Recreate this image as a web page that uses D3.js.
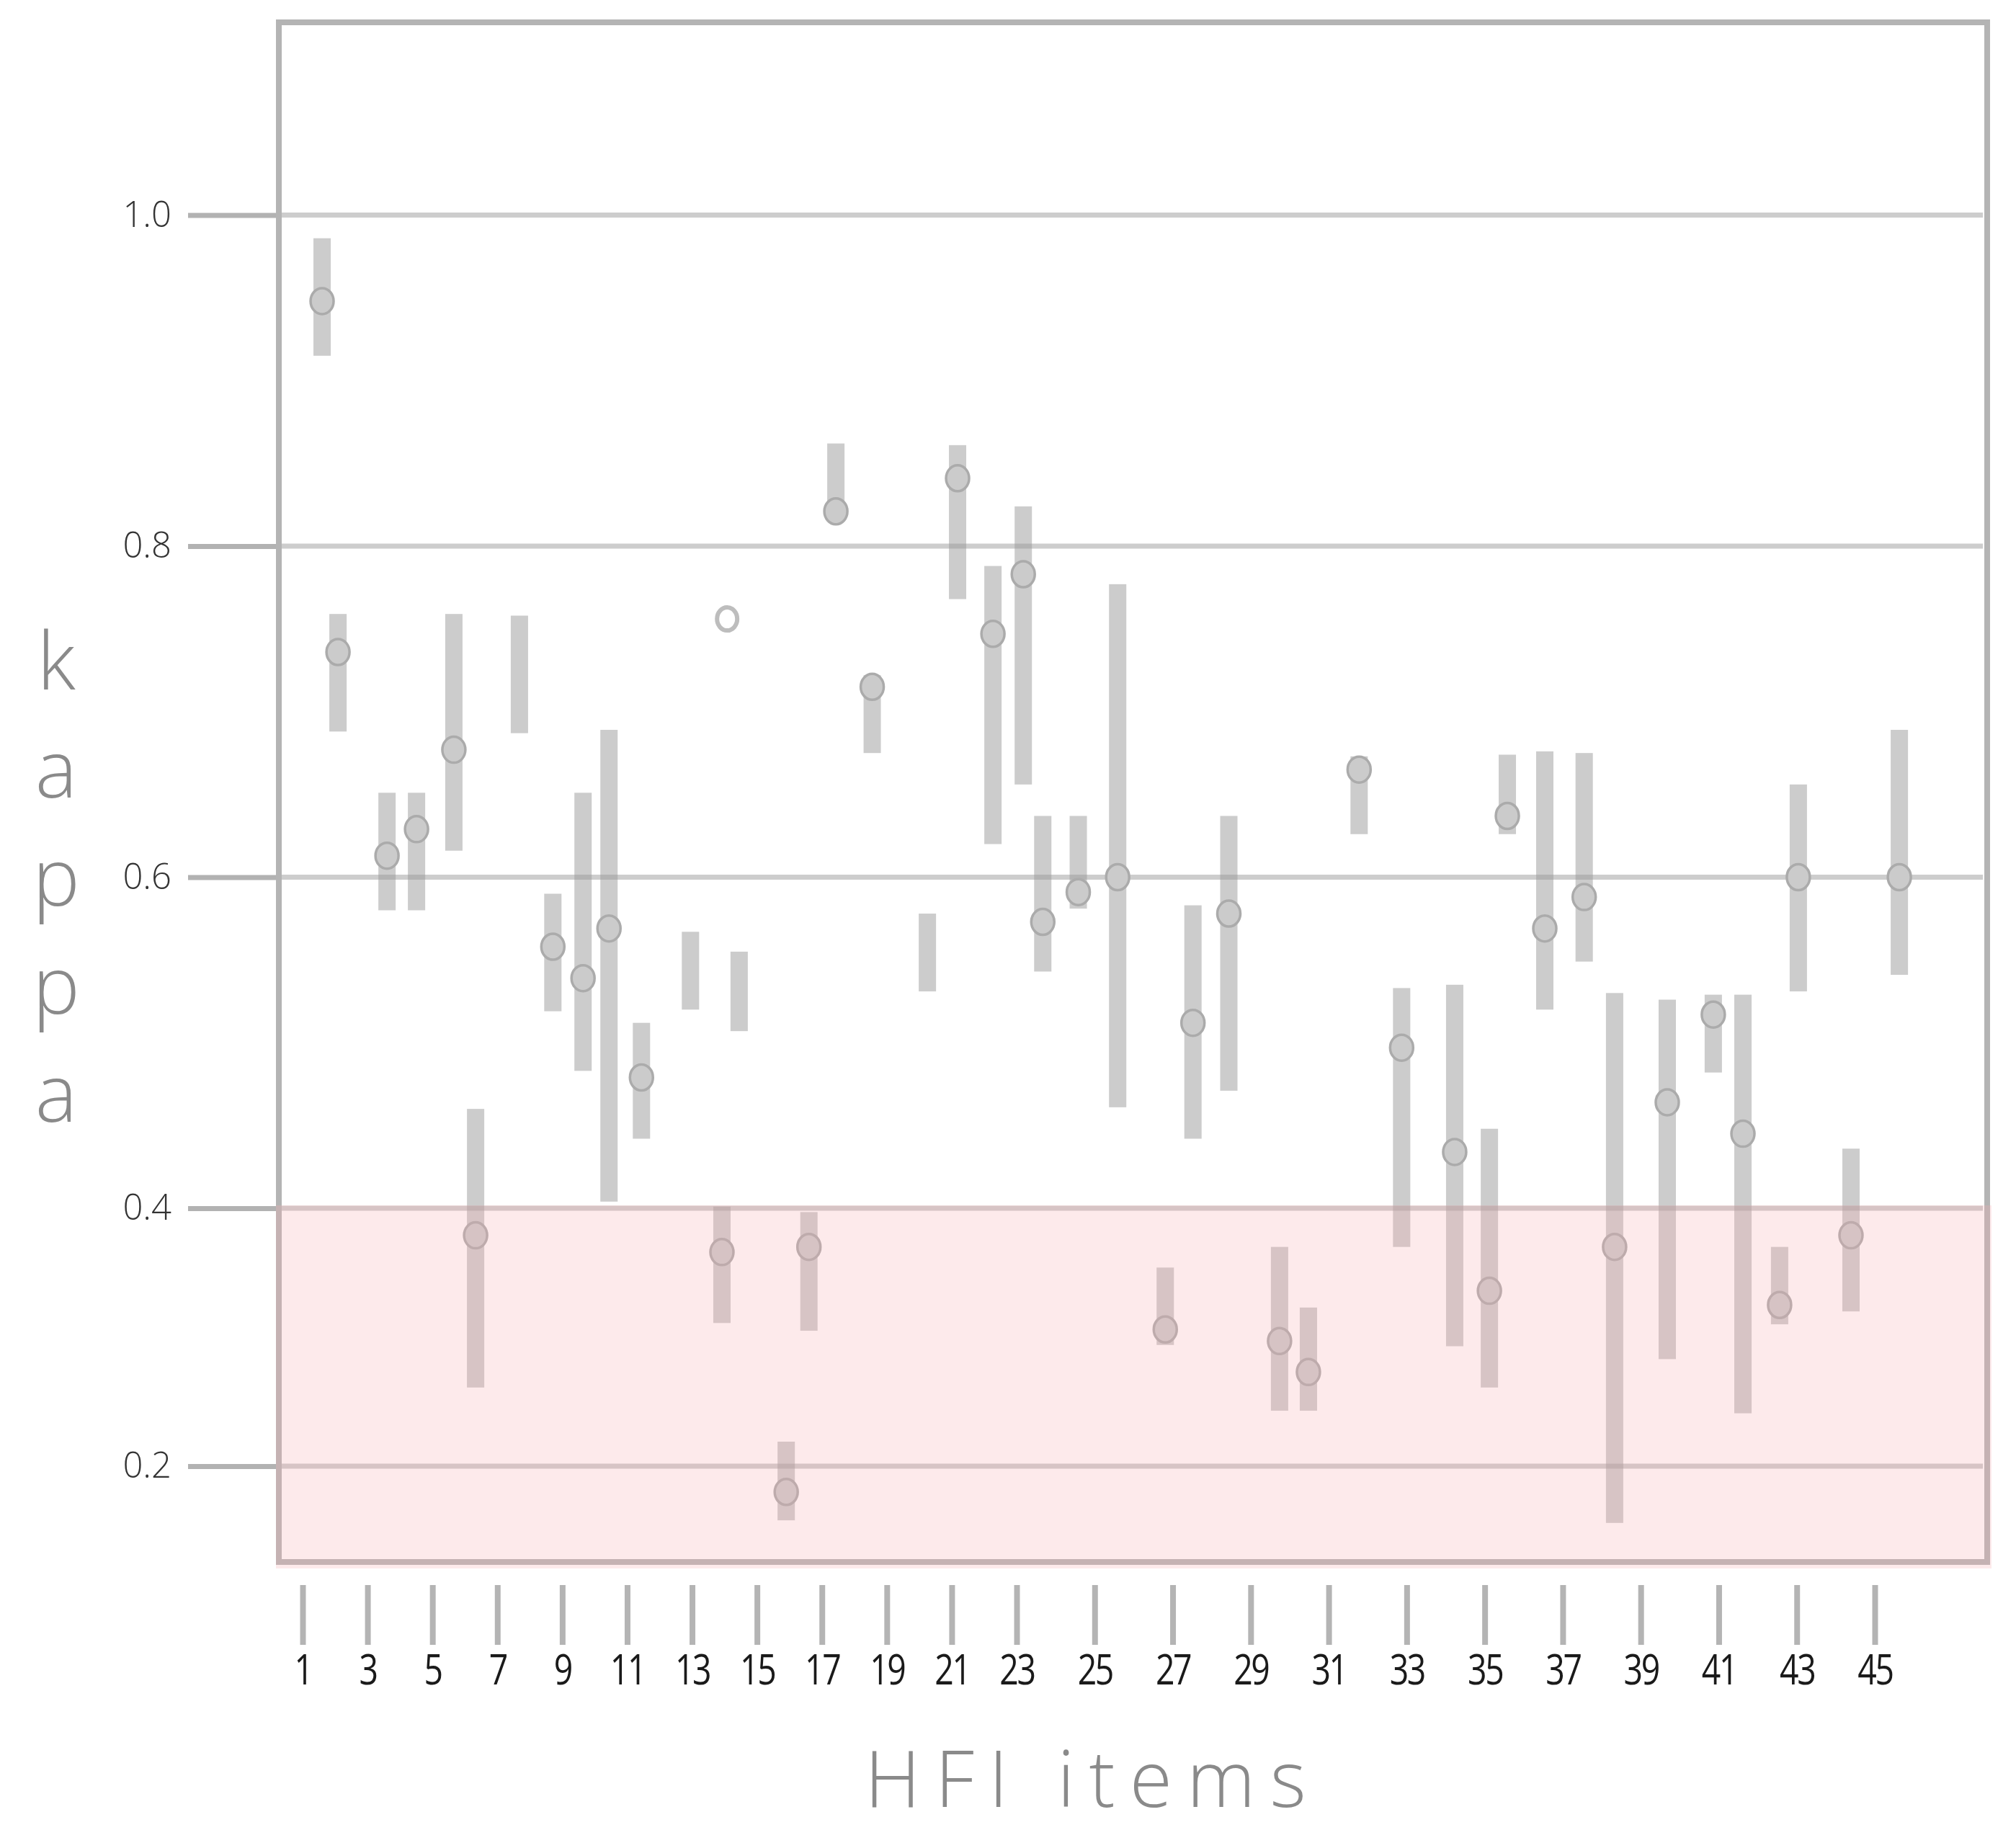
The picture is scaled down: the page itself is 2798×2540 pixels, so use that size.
<!DOCTYPE html>
<html>
<head>
<meta charset="utf-8">
<script src="https://cdn.jsdelivr.net/npm/d3@7"></script>
<style>
  html, body { margin: 0; padding: 0; background: #fff; }
  svg { display: block; }
  text { font-family: "Open Sans", "Noto Sans", sans-serif; }
</style>
</head>
<body>
<svg id="chart"></svg>
<script>
// position of each estimate along the item axis (read against the tick labels)
const itemPos = [1.60, 2.09, 3.60, 4.51, 5.66, 6.33, 7.68, 8.71, 9.64, 10.44,
  11.44, 12.95, 13.92, 14.08, 14.45, 15.90, 16.60, 17.43, 18.55, 20.25,
  21.18, 22.27, 23.17, 23.67, 24.58, 25.59, 26.81, 27.52, 28.44, 29.74,
  30.48, 31.78, 32.87, 34.23, 35.12, 35.58, 36.54, 37.55, 38.33, 39.68,
  40.86, 41.62, 42.56, 43.04, 44.39, 45.63];

// kappa point estimates (null = no marker drawn)
const kappa = [0.948, 0.736, 0.613, 0.629, 0.677, 0.379, null, 0.558, 0.539, 0.569,
  0.479, null, 0.366, 0.756, null, 0.180, 0.370, 0.821, 0.715, null,
  0.841, 0.747, 0.783, 0.573, 0.591, 0.600, 0.306, 0.512, 0.578, 0.297,
  0.273, 0.665, 0.497, 0.434, 0.336, 0.637, 0.569, 0.588, 0.370, 0.464,
  0.517, 0.445, 0.325, 0.600, 0.379, 0.600];

// confidence interval, lower and upper bounds (null = no interval)
const ciLow = [0.915, 0.688, 0.580, 0.580, 0.616, 0.261, 0.687, 0.519, 0.483, 0.404,
  0.442, 0.520, 0.311, null, 0.507, 0.158, 0.305, 0.815, 0.675, 0.531,
  0.768, 0.620, 0.656, 0.543, 0.581, 0.461, 0.294, 0.442, 0.471, 0.243,
  0.243, 0.626, 0.370, 0.293, 0.261, 0.626, 0.520, 0.549, 0.156, 0.283,
  0.482, 0.241, 0.310, 0.531, 0.320, 0.541];
const ciHigh = [0.986, 0.759, 0.651, 0.651, 0.759, 0.460, 0.758, 0.590, 0.651, 0.689,
  0.512, 0.567, 0.401, null, 0.555, 0.219, 0.397, 0.862, 0.722, 0.578,
  0.861, 0.788, 0.824, 0.637, 0.637, 0.777, 0.354, 0.583, 0.637, 0.370,
  0.323, 0.673, 0.533, 0.535, 0.448, 0.674, 0.676, 0.675, 0.530, 0.526,
  0.529, 0.529, 0.370, 0.656, 0.436, 0.689];

const xTicks = [1, 3, 5, 7, 9, 11, 13, 15, 17, 19, 21, 23, 25, 27, 29, 31, 33, 35, 37, 39, 41, 43, 45];
const yTicks = [0.2, 0.4, 0.6, 0.8, 1.0];
const poorLimit = 0.4;   // below this agreement is shaded

const W = 2798, H = 2540;
const box = { left: 387, right: 2758, top: 31, bottom: 2168 };

const svg = d3.select("#chart").attr("width", W).attr("height", H);
svg.append("rect").attr("width", W).attr("height", H).attr("fill", "#fff");

// item axis is stretched a little towards the right, like the original
const x = d3.scaleLinear().domain([1, 23, 45]).range([420, 1411, 2602]);
// kappa axis: the lowest step is drawn shorter than the others
const y = d3.scaleLinear().domain([0.2, 0.4, 1.0]).range([2035, 1677, 298.5]);

const data = itemPos.map((p, i) => ({
    pos: p, k: kappa[i], lo: ciLow[i], hi: ciHigh[i]
}));

// gridlines inside the frame
svg.append("g")
    .selectAll("line")
    .data(yTicks)
    .join("line")
    .attr("x1", box.left)
    .attr("x2", box.right - 6)
    .attr("y1", d => y(d))
    .attr("y2", d => y(d))
    .attr("stroke", "#cdcdcd")
    .attr("stroke-width", 7);

// y axis ticks + labels
const yAxis = svg.append("g")
    .attr("transform", `translate(${box.left},0)`)
    .call(d3.axisLeft(y).tickValues(yTicks).tickSize(126).tickPadding(23).tickFormat(d3.format(".1f")));
yAxis.select(".domain").remove();
yAxis.selectAll(".tick line").attr("stroke", "#b2b2b2").attr("stroke-width", 7);
yAxis.selectAll(".tick text")
    .attr("font-family", "Open Sans")
    .attr("font-weight", 300)
    .attr("font-size", 49)
    .attr("fill", "#333");

// frame
svg.append("rect")
    .attr("x", box.left)
    .attr("y", box.top)
    .attr("width", box.right - box.left)
    .attr("height", box.bottom - box.top)
    .attr("fill", "none")
    .attr("stroke", "#b4b4b4")
    .attr("stroke-width", 8);

// confidence bars
const withCi = data.filter(d => d.lo != null);
svg.append("g")
    .selectAll("rect")
    .data(withCi)
    .join("rect")
    .attr("x", d => x(d.pos) - 12)
    .attr("width", 24)
    .attr("y", d => y(d.hi))
    .attr("height", d => y(d.lo) - y(d.hi))
    .attr("fill", "#9a9a9a")
    .attr("fill-opacity", 0.5);

// point estimates
svg.append("g")
    .selectAll("ellipse")
    .data(data.filter(d => d.k != null && d.lo != null))
    .join("ellipse")
    .attr("cx", d => x(d.pos))
    .attr("cy", d => y(d.k))
    .attr("rx", 16)
    .attr("ry", 18)
    .attr("fill", "#cbcbcb")
    .attr("stroke", "#ababab")
    .attr("stroke-width", 3.5);

// estimate without interval: open ring
svg.append("g")
    .selectAll("ellipse")
    .data(data.filter(d => d.k != null && d.lo == null))
    .join("ellipse")
    .attr("cx", d => x(d.pos))
    .attr("cy", d => y(d.k))
    .attr("rx", 14)
    .attr("ry", 16)
    .attr("fill", "none")
    .attr("stroke", "#bdbdbd")
    .attr("stroke-width", 6);

// pink band for poor agreement, laid over everything below 0.4
svg.append("rect")
    .attr("x", box.left - 4)
    .attr("y", y(poorLimit) - 4)
    .attr("width", box.right - box.left + 10)
    .attr("height", box.bottom + 9 - (y(poorLimit) - 4))
    .attr("fill", "rgb(247,171,175)")
    .attr("fill-opacity", 0.25)
    .style("pointer-events", "none");

// x axis
const xAxis = svg.append("g")
    .attr("transform", "translate(0,2200)")
    .call(d3.axisBottom(x).tickValues(xTicks).tickSize(83).tickPadding(14).tickFormat(d3.format("d")));
xAxis.select(".domain").remove();
xAxis.selectAll(".tick line").attr("stroke", "#b4b4b4").attr("stroke-width", 8);
xAxis.selectAll(".tick text")
    .attr("font-family", "Open Sans")
    .attr("font-size", 58)
    .attr("fill", "#1a1a1a")
    .attr("letter-spacing", -3)
    .attr("transform", "scale(0.8,1)");

// axis titles
const yTitle = "kappa".split("");
svg.append("g")
    .selectAll("text")
    .data(yTitle)
    .join("text")
    .attr("x", 78)
    .attr("y", (d, i) => 957 + i * 150)
    .attr("text-anchor", "middle")
    .attr("font-size", 110)
    .attr("font-weight", 300)
    .attr("fill", "#8a8a8a")
    .text(d => d);

svg.append("text")
    .attr("x", 1200)
    .attr("y", 2508)
    .attr("font-size", 108)
    .attr("font-weight", 300)
    .attr("letter-spacing", 20)
    .attr("fill", "#8a8a8a")
    .text("HFI items");
</script>
</body>
</html>
